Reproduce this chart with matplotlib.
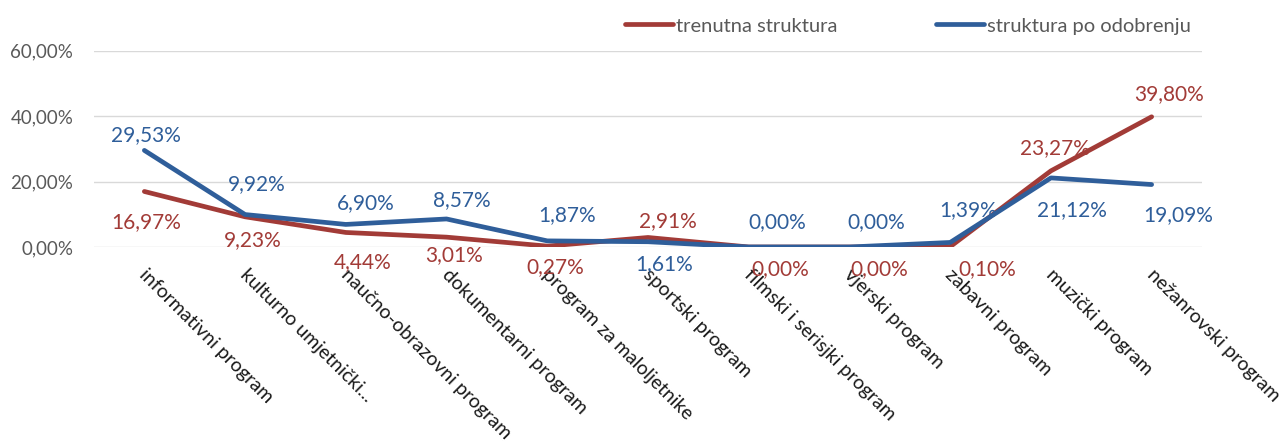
import matplotlib
matplotlib.use("Agg")
import matplotlib.pyplot as plt
from matplotlib.ticker import FuncFormatter

categories = ["informativni program", "kulturno umjetnički...", "naučno-obrazovni program",
              "dokumentarni program", "program za maloljetnike", "sportski program",
              "filmski i serisjki program", "vjerski program", "zabavni program",
              "muzički program", "nežanrovski program"]
trenutna = [16.97, 9.23, 4.44, 3.01, 0.27, 2.91, 0.00, 0.00, 0.10, 23.27, 39.80]
odobrenje = [29.53, 9.92, 6.90, 8.57, 1.87, 1.61, 0.00, 0.00, 1.39, 21.12, 19.09]
series_names = ["trenutna struktura", "struktura po odobrenju"]
y_ticks = [0, 20, 40, 60]

# label offsets (pixels) relative to each point
red_off = [(2, -31), (8, -23), (17, -30), (7, -18), (8, -21), (20, 16),
           (32, -22), (30, -22), (37, -22), (4, 23), (17, 23)]
blue_off = [(2, 15), (12, 30), (20, 21), (15, 19), (20, 26), (16, -22),
            (29, 25), (27, 25), (18, 32), (21, -32), (27, -31)]

RED = "#A23B37"
BLUE = "#2F5E9A"
plt.rcParams['font.family'] = ['Lato', 'DejaVu Sans']

W, H = 1282, 441
fig = plt.figure(figsize=(W / 100, H / 100), dpi=100)
left, right, top, bottom = 94, 1202, 50.7, 247
ax = fig.add_axes([left / W, 1 - bottom / H, (right - left) / W, (bottom - top) / H])

x = list(range(len(categories)))
l1, = ax.plot(x, trenutna, color=RED, lw=3.4, solid_capstyle='round', solid_joinstyle='round', zorder=3)
l2, = ax.plot(x, odobrenje, color=BLUE, lw=3.4, solid_capstyle='round', solid_joinstyle='round', zorder=4)

def fmt(v):
    return f"{v:.2f}%".replace('.', ',')

for i, v in enumerate(trenutna):
    ax.annotate(fmt(v), xy=(i, v), xytext=red_off[i], textcoords='offset pixels',
                ha='center', va='center', color=RED, fontsize=15, zorder=5)
for i, v in enumerate(odobrenje):
    ax.annotate(fmt(v), xy=(i, v), xytext=blue_off[i], textcoords='offset pixels',
                ha='center', va='center', color=BLUE, fontsize=15, zorder=5)

for i, c in enumerate(categories):
    ax.annotate(c, xy=(i, 0), xytext=(4, -19), textcoords='offset pixels',
                ha='left', va='top', rotation=-45, rotation_mode='anchor',
                fontsize=14, color='#1a1a1a', annotation_clip=False)

ax.set_xlim(-0.5, len(categories) - 0.5)
ax.set_ylim(0, 60)
ax.set_yticks(y_ticks)
ax.yaxis.set_major_formatter(FuncFormatter(lambda v, p: fmt(v)))
ax.tick_params(axis='y', length=0, pad=15, labelsize=13.5, labelcolor='#595959')
ax.set_xticks([])
ax.grid(axis='y', color='#D9D9D9', lw=1)
ax.set_axisbelow(True)
for s in ax.spines.values():
    s.set_visible(False)

fig.legend([l1, l2], series_names, loc='center left', bbox_to_anchor=(625 / W, 1 - 26 / H),
           ncol=2, frameon=False, fontsize=14.5, handlelength=2.4, handletextpad=0.12,
           columnspacing=4.9, labelcolor='#595959', borderaxespad=0, borderpad=0)

fig.savefig("out.png", dpi=100)
